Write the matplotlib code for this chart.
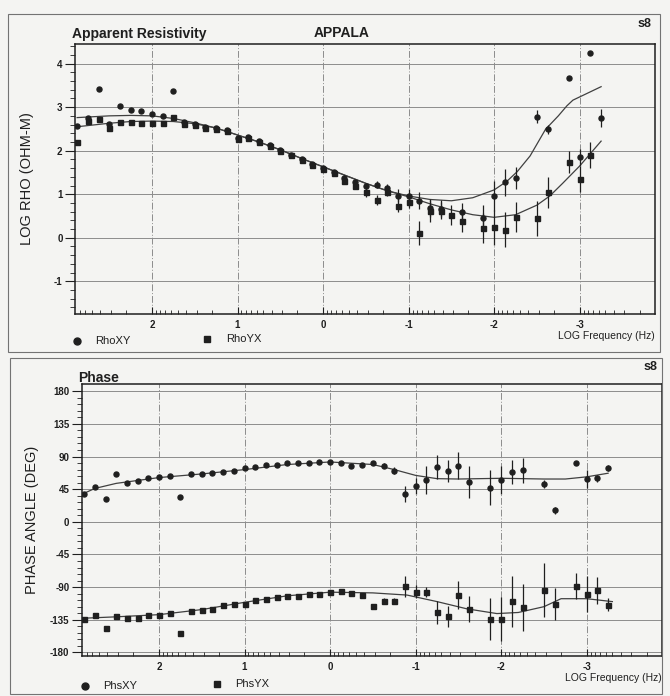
import numpy as np
import matplotlib
matplotlib.use("Agg")
import matplotlib.pyplot as plt
from matplotlib.patches import Rectangle
from matplotlib.lines import Line2D

plt.rcParams["font.family"] = ["Liberation Sans", "DejaVu Sans"]
plt.rcParams["axes.unicode_minus"] = False

W, H = 670, 696

# log10 frequency of each sounding (missing decimations skipped)
log_freq = [2.875, 2.75, 2.625, 2.5, 2.375, 2.25, 2.125, 2.0, 1.875, 1.75,
            1.625, 1.5, 1.375, 1.25, 1.125, 1.0, 0.875, 0.75, 0.625, 0.5,
            0.375, 0.25, 0.125, 0.0, -0.125, -0.25, -0.375, -0.5, -0.625, -0.75,
            -0.875, -1.0, -1.125, -1.25, -1.375, -1.5, -1.625, -1.875, -2.0, -2.125,
            -2.25, -2.5, -2.625, -2.875, -3.0, -3.125, -3.25]

nan = np.nan
rho_xy = [2.57, 2.74, 3.41, 2.62, 3.03, 2.93, 2.92, 2.84, 2.79, 3.38,
          2.66, 2.62, 2.54, 2.51, 2.48, 2.29, 2.31, 2.23, 2.13, 2.01,
          1.91, 1.81, 1.69, 1.61, 1.51, 1.38, 1.28, 1.18, 1.22, 1.14,
          0.97, 0.97, 0.85, 0.68, 0.67, nan, 0.59, 0.46, 0.96, 1.27,
          1.38, 2.78, 2.49, 3.68, 1.85, 4.24, 2.75]
rho_xy_err = [0, 0, 0, 0, 0, 0, 0, 0, 0, 0,
              0, 0, 0, 0, 0, 0, 0, 0, 0, 0,
              0, 0, 0, 0, 0, 0.07, 0.08, 0.08, 0.08, 0.10,
              0.15, 0.15, 0.20, 0.20, 0.20, 0, 0.20, 0.30, 0.35, 0.30,
              0.25, 0.15, 0.10, 0, 0.20, 0, 0.20]
rho_yx = [2.20, 2.68, 2.72, 2.52, 2.66, 2.65, 2.64, 2.64, 2.63, 2.78,
          2.61, 2.60, 2.52, 2.49, 2.46, 2.27, 2.29, 2.21, 2.11, 1.99,
          1.89, 1.79, 1.67, 1.59, 1.49, 1.31, 1.19, 1.04, 0.87, 1.05,
          0.74, 0.83, 0.11, 0.61, 0.62, 0.53, 0.38, 0.23, 0.24, 0.19,
          0.48, 0.45, 1.04, 1.74, 1.34, 1.91, nan]
rho_yx_err = [0, 0, 0, 0, 0, 0, 0, 0, 0, 0,
              0, 0, 0, 0, 0, 0, 0, 0, 0, 0,
              0, 0, 0, 0, 0, 0.07, 0.08, 0.10, 0.12, 0.10,
              0.15, 0.15, 0.27, 0.25, 0.20, 0.23, 0.25, 0.35, 0.40, 0.40,
              0.35, 0.40, 0.35, 0.25, 0.30, 0.30, 0]

phs_xy = [37.7, 48.3, 31.4, 65.5, 54.0, 56.4, 60.1, 62.4, 63.4, 34.0,
          65.5, 66.4, 67.4, 68.4, 70.7, 74.4, 75.4, 77.7, 78.8, 81.2,
          80.8, 81.7, 82.7, 82.3, 80.6, 77.3, 78.3, 80.8, 77.6, 70.3,
          38.1, 48.8, 58.0, 75.5, 69.6, 77.6, 55.1, 47.2, 58.0, 68.6,
          71.0, 52.3, 16.0, 81.5, 59.1, 60.0, 74.7]
phs_xy_err = [0, 0, 0, 0, 0, 0, 0, 0, 0, 0,
              0, 0, 0, 0, 0, 0, 0, 0, 0, 0,
              0, 0, 0, 0, 0, 0, 0, 0, 4, 5,
              11, 11, 19, 16, 15, 19, 22, 24, 19, 17,
              17, 6, 5, 0, 13, 5, 4]
phs_yx = [-133.5, -128.4, -146.8, -129.3, -132.4, -132.8, -129.0, -128.0, -125.7, -153.7,
          -122.4, -121.4, -120.4, -115.3, -113.0, -113.3, -108.1, -105.8, -103.5, -102.5,
          -102.9, -99.2, -99.6, -97.1, -95.2, -98.1, -101.1, -116.7, -108.8, -109.2,
          -89.0, -96.3, -96.7, -124.7, -130.5, -100.6, -120.3, -133.5, -134.0, -109.5,
          -118.1, -94.1, -113.8, -88.4, -99.7, -94.6, -114.5]
phs_yx_err = [0, 0, 0, 0, 0, 0, 0, 0, 0, 0,
              0, 0, 0, 0, 0, 0, 0, 0, 0, 0,
              0, 0, 0, 0, 3, 3, 3, 4, 4, 4,
              14, 9, 7, 16, 15, 19, 18, 29, 30, 35,
              32, 37, 22, 18, 25, 19, 9]

# model responses
rho_xy_model_lf = [2.875, 2.5, 2.25, 2.0, 1.75, 1.5, 1.25, 1.0, 0.75, 0.5, 0.25, 0.0,
                   -0.25, -0.5, -0.75, -1.0, -1.25, -1.5, -1.75, -2.0, -2.15, -2.27,
                   -2.42, -2.6, -2.75, -2.85, -2.92, -3.25]
rho_xy_model = [2.76, 2.80, 2.81, 2.80, 2.74, 2.64, 2.52, 2.36, 2.20, 2.02, 1.82, 1.63,
                1.44, 1.25, 1.08, 0.96, 0.88, 0.85, 0.92, 1.10, 1.30, 1.52,
                1.88, 2.49, 2.80, 3.03, 3.16, 3.47]
rho_yx_model_lf = [2.875, 2.5, 2.25, 2.0, 1.75, 1.5, 1.25, 1.0, 0.75, 0.5, 0.25, 0.0,
                   -0.25, -0.5, -0.75, -1.0, -1.25, -1.5, -1.75, -2.0, -2.25, -2.5,
                   -2.65, -2.8, -3.0, -3.25]
rho_yx_model = [2.55, 2.63, 2.67, 2.68, 2.67, 2.62, 2.52, 2.36, 2.20, 2.02, 1.82, 1.63,
                1.44, 1.25, 1.08, 0.94, 0.78, 0.64, 0.53, 0.47, 0.53, 0.75,
                0.96, 1.25, 1.65, 2.22]
phs_xy_model_lf = [2.9, 2.75, 2.5, 2.25, 2.0, 1.75, 1.5, 1.0, 0.5, 0.0, -0.5, -0.75,
                   -1.0, -1.25, -1.5, -2.0, -2.5, -2.75, -3.0, -3.25]
phs_xy_model = [38, 46, 53, 57, 61, 63.5, 66, 72, 79, 82.5, 79, 72,
                64, 59.5, 59, 60, 59, 59, 62, 67]
phs_yx_model_lf = [2.9, 2.5, 2.0, 1.5, 1.0, 0.5, 0.0, -0.5, -0.9, -1.25, -1.6, -1.95,
                   -2.2, -2.5, -2.7, -3.0, -3.3]
phs_yx_model = [-133, -131, -128, -121, -111, -102, -97, -98, -101, -110, -120, -126.5,
                -125, -117, -106, -106, -110]

x_major = [2, 1, 0, -1, -2, -3]
x_labels = ["2", "1", "0", "-1", "-2", "-3"]
rho_ticks = [4, 3, 2, 1, 0, -1]
phs_ticks = [180, 135, 90, 45, 0, -45, -90, -135, -180]

INK = "0.12"
GRID = "0.55"
PAPER = "#f4f4f2"


def px(x, y):
    return x / W, 1 - y / H


def box(x0, y0, x1, y1):
    fx0, fy1 = px(x0, y0)
    fx1, fy0 = px(x1, y1)
    return [fx0, fy0, fx1 - fx0, fy1 - fy0]


def style_axis(ax, yticks, ylim, yminor):
    ax.set_facecolor(PAPER)
    ax.set_xlim(2.9, -3.88)
    ax.set_ylim(*ylim)
    ax.set_xticks(x_major)
    ax.set_xticklabels(x_labels)
    minor = [n + np.log10(m) for n in range(-4, 3) for m in range(2, 10)]
    ax.set_xticks([v for v in minor if -3.88 < v < 2.9], minor=True)
    ax.set_yticks(yticks)
    ax.set_yticks(yminor, minor=True)
    ax.tick_params(axis="x", which="major", direction="in", length=5, width=0.8,
                   labelsize=7, pad=4, colors=INK)
    ax.tick_params(axis="x", which="minor", direction="in", length=3, width=0.6, colors=INK)
    ax.tick_params(axis="y", which="major", direction="out", length=7, width=0.8,
                   labelsize=7, pad=2, colors=INK)
    ax.tick_params(axis="y", which="minor", direction="out", length=3.5, width=0.6, colors=INK)
    for lab in ax.get_xticklabels() + ax.get_yticklabels():
        lab.set_fontweight("bold")
    for v in yticks:
        ax.axhline(v, color=GRID, lw=0.7, zorder=0)
    for v in x_major:
        ax.axvline(v, color=GRID, lw=0.7, ls=(0, (7, 2, 1, 2)), zorder=0)
    for s in ax.spines.values():
        s.set_color(INK)
        s.set_linewidth(1.1)
    ax.set_xlabel("LOG Frequency (Hz)", loc="right", fontsize=7.5, labelpad=1, color=INK)


def draw_series(ax, y, err, marker):
    ax.errorbar(log_freq, y, yerr=err, fmt=marker, ms=3.6, color=INK, mfc=INK, mec=INK,
                elinewidth=0.9, capsize=0, zorder=3)


fig = plt.figure(figsize=(W / 100, H / 100), dpi=100)
fig.patch.set_facecolor(PAPER)

# outer frames
for b in (box(8, 14, 660, 352), box(10, 358, 662, 694)):
    fig.patches.append(Rectangle((b[0], b[1]), b[2], b[3], transform=fig.transFigure,
                                 fill=False, ec="0.45", lw=0.8))

# --- apparent resistivity ---
ax1 = fig.add_axes(box(75, 44, 655, 314))
style_axis(ax1, rho_ticks, (-1.75, 4.45), np.arange(-1.6, 4.45, 0.2))
ax1.plot(rho_xy_model_lf, rho_xy_model, color="0.25", lw=0.9, zorder=2)
ax1.plot(rho_yx_model_lf, rho_yx_model, color="0.25", lw=0.9, zorder=2)
draw_series(ax1, rho_xy, rho_xy_err, "o")
draw_series(ax1, rho_yx, rho_yx_err, "s")
ax1.set_ylabel("LOG RHO (OHM-M)", fontsize=10.5, color=INK, labelpad=14)

# --- phase ---
ax2 = fig.add_axes(box(82, 384, 662, 656))
style_axis(ax2, phs_ticks, (-185, 190), np.arange(-180, 181, 9))
ax2.plot(phs_xy_model_lf, phs_xy_model, color="0.25", lw=0.9, zorder=2)
ax2.plot(phs_yx_model_lf, phs_yx_model, color="0.25", lw=0.9, zorder=2)
draw_series(ax2, phs_xy, phs_xy_err, "o")
draw_series(ax2, phs_yx, phs_yx_err, "s")
ax2.set_ylabel("PHASE ANGLE (DEG)", fontsize=10.5, color=INK, labelpad=8)

# titles
fig.text(*px(72, 34), "Apparent Resistivity", fontsize=10, fontweight="bold",
         va="center", ha="left", color=INK)
fig.text(*px(342, 33), "APPALA", fontsize=10, fontweight="bold",
         va="center", ha="center", color=INK)
fig.text(*px(651, 24), "s8", fontsize=9, fontweight="bold", va="center", ha="right", color=INK)
fig.text(*px(78, 378), "Phase", fontsize=10, fontweight="bold",
         va="center", ha="left", color=INK)
fig.text(*px(657, 367), "s8", fontsize=9, fontweight="bold", va="center", ha="right", color=INK)

# legends
for (mx, my, marker, tx, label) in [(77, 341, "o", 95, "RhoXY"), (207, 339, "s", 226, "RhoYX"),
                                    (85, 686, "o", 103, "PhsXY"), (217, 684, "s", 235, "PhsYX")]:
    fx, fy = px(mx, my)
    fig.add_artist(Line2D([fx], [fy], marker=marker, ms=5, color=INK, ls="none",
                          transform=fig.transFigure))
    fig.text(*px(tx, my), label, fontsize=8, va="center", ha="left", color=INK)

fig.savefig("out.png", dpi=100, facecolor=fig.get_facecolor())
